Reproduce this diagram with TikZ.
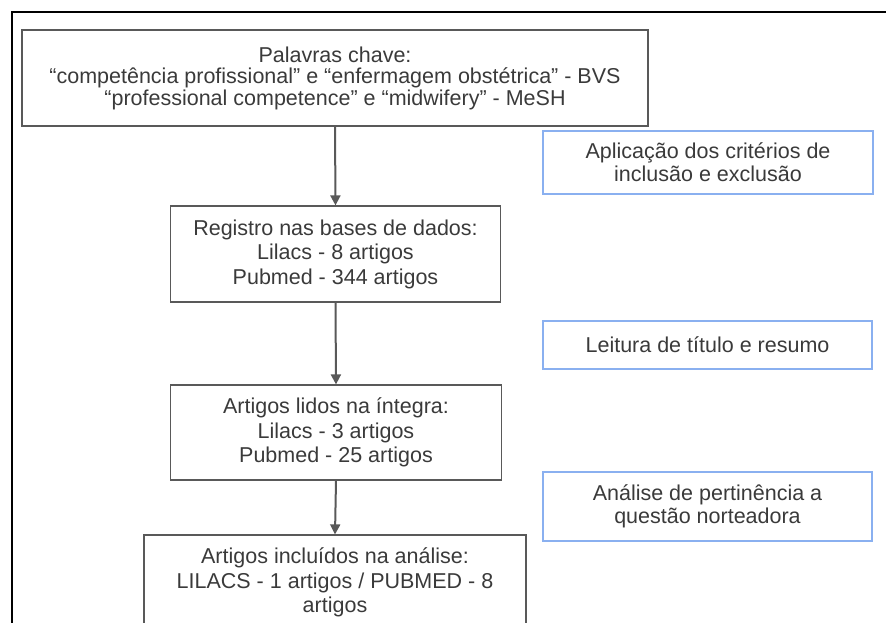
\documentclass[tikz,border=0pt]{standalone}
\usepackage{fontspec}
\setmainfont{Liberation Sans}
\usepackage{xcolor}
\usetikzlibrary{positioning,calc,arrows.meta}
\definecolor{boxgray}{RGB}{89,89,89}
\definecolor{txtgray}{RGB}{58,58,58}
\definecolor{noteblue}{RGB}{138,176,240}

\begin{document}
\begin{tikzpicture}[x=1pt,y=-1pt,
    flowbox/.style={draw=boxgray, line width=1.2pt, align=center, inner sep=0pt,
        text=txtgray, font=\fontsize{21.5}{24.5}\selectfont},
    notebox/.style={draw=noteblue, line width=1.2pt, align=center, inner sep=0pt,
        text=txtgray, font=\fontsize{21.5}{23}\selectfont},
    flowarrow/.style={draw=boxgray, line width=2pt, -{Triangle[length=10pt,width=10pt]}}]
    \useasboundingbox (0,0) rectangle (886,623);
    \clip (0,0) rectangle (886,623);

    % outer frame
    \draw[line width=2.6pt] (12,623) -- (12,12) -- (886,12);

    % main flow
    \node[flowbox, minimum width=626, minimum height=96, font=\fontsize{21.5}{21.5}\selectfont] (kw) at (335,78)
        {Palavras chave:\\“competência profissional” e “enfermagem obstétrica” - BVS\\“professional competence” e “midwifery” - MeSH};
    \node[flowbox, minimum width=330, minimum height=96] (reg) at (335.5,254)
        {Registro nas bases de dados:\\Lilacs - 8 artigos\\Pubmed - 344 artigos};
    \node[flowbox, minimum width=331, minimum height=95] (lidos) at (336,432.5)
        {Artigos lidos na íntegra:\\Lilacs - 3 artigos\\Pubmed - 25 artigos};
    \node[flowbox, minimum width=382, minimum height=95] (incl) at (335,582.5)
        {Artigos incluídos na análise:\\LILACS - 1 artigos / PUBMED - 8\\artigos};

    % side notes
    \node[notebox, minimum width=330, minimum height=63] (crit) at (708,162.5)
        {Aplicação dos critérios de\\inclusão e exclusão};
    \node[notebox, minimum width=329, minimum height=48] (leit) at (707.5,345)
        {Leitura de título e resumo};
    \node[notebox, minimum width=329, minimum height=69] (pert) at (707.5,506.5)
        {Análise de pertinência a\\questão norteadora};

    % arrows
    \draw[flowarrow] (kw.south) -- (reg.north);
    \draw[flowarrow] (reg.south) -- (lidos.north);
    \draw[flowarrow] (lidos.south) -- (incl.north);
\end{tikzpicture}
\end{document}
